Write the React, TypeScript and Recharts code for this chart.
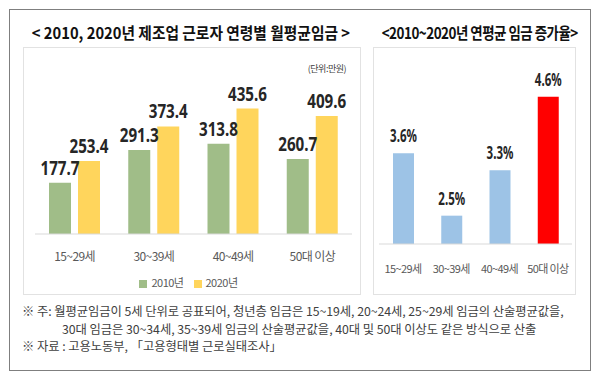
import { BarChart, Bar, XAxis, YAxis, Legend, LabelList, Cell } from "recharts";

const ageGroups = ["15~29세", "30~39세", "40~49세", "50대 이상"];
const wage2010 = [177.7, 291.3, 313.8, 260.7];
const wage2020 = [253.4, 373.4, 435.6, 409.6];
const growthRate = [3.6, 2.5, 3.3, 4.6];

const wageData = ageGroups.map((age, i) => ({ age, y2010: wage2010[i], y2020: wage2020[i] }));
const growthData = ageGroups.map((age, i) => ({ age, rate: growthRate[i] }));

const kr = "'Noto Sans CJK KR', sans-serif";
const tickStyle = { fontFamily: kr, fontSize: 12, fill: "#595959", letterSpacing: -0.6 };

// condensed bold value label above a bar
const squeezedLabel = (size: number, scale: number, gap: number, suffix = "") => (props: any) => {
    const { x, y, width, value } = props;
    const cx = Number(x) + Number(width) / 2;
    return (
        <text x={cx} y={Number(y) - gap} textAnchor="middle" fontFamily="'Noto Sans', sans-serif" fontWeight={700} fontSize={size} fill="#262626"
            transform={`translate(${cx} 0) scale(${scale} 1) translate(${-cx} 0)`}>
            {value}{suffix}
        </text>
    );
};

const App = () => (
    <div style={{ position: "absolute", left: 0, top: 0, width: 600, height: 380, background: "#fff" }}>
        <div style={{ position: "absolute", left: 9, top: 9, width: 582, height: 362, border: "1.5px solid #7f7f7f", boxSizing: "border-box" }} />

        <div style={{ position: "absolute", left: 0, top: 20, width: 382, textAlign: "center", fontFamily: kr, fontWeight: 700, fontSize: 16, color: "#111", whiteSpace: "nowrap" }}>
            <span style={{ display: "inline-block", transform: "scaleX(0.92)" }}>&lt; 2010, 2020년 제조업 근로자 연령별 월평균임금 &gt;</span>
        </div>
        <div style={{ position: "absolute", left: 363, top: 20, width: 229, textAlign: "center", fontFamily: kr, fontWeight: 700, fontSize: 16, color: "#111", whiteSpace: "nowrap" }}>
            <span style={{ display: "inline-block", transform: "scaleX(0.84)", letterSpacing: -0.6 }}>&lt;2010~2020년 연평균 임금 증가율&gt;</span>
        </div>

        <div style={{ position: "absolute", left: 23, top: 47, width: 338, height: 248, border: "1px solid #e2e2e2", boxSizing: "border-box" }}>
            <div style={{ position: "absolute", right: 14, top: 14, fontFamily: kr, fontSize: 9, color: "#404040", letterSpacing: -0.5 }}>(단위:만원)</div>
            <BarChart width={336} height={246} data={wageData} margin={{ top: 42, right: 8, left: 11, bottom: 4 }} barGap={7} barCategoryGap="18%">
                <XAxis dataKey="age" tickLine={false} axisLine={{ stroke: "#d9d9d9" }} tick={tickStyle} tickMargin={12} height={40} interval={0} />
                <YAxis hide domain={[0, 500]} />
                <Legend verticalAlign="bottom" iconType="square" iconSize={8} wrapperStyle={{ fontFamily: kr, fontSize: 11, letterSpacing: -0.5 }}
                    formatter={(v) => <span style={{ color: "#595959" }}>{v}</span>} />
                <Bar dataKey="y2010" name="2010년" fill="#a0bd88" barSize={22} isAnimationActive={false}>
                    <LabelList dataKey="y2010" content={squeezedLabel(19, 0.8, 8)} />
                </Bar>
                <Bar dataKey="y2020" name="2020년" fill="#ffd55c" barSize={22} isAnimationActive={false}>
                    <LabelList dataKey="y2020" content={squeezedLabel(19, 0.8, 8)} />
                </Bar>
            </BarChart>
        </div>

        <div style={{ position: "absolute", left: 373, top: 47, width: 203, height: 248, border: "1px solid #e2e2e2", boxSizing: "border-box" }}>
            <BarChart width={201} height={246} data={growthData} margin={{ top: 26, right: 3, left: 5, bottom: 10 }}>
                <XAxis dataKey="age" tickLine={false} axisLine={{ stroke: "#d9d9d9" }} tick={{ ...tickStyle, fontSize: 11 }} tickMargin={15} height={40} interval={0} />
                <YAxis hide domain={[2, 5]} />
                <Bar dataKey="rate" barSize={21} isAnimationActive={false}>
                    {growthData.map((d, i) => (
                        <Cell key={d.age} fill={i === growthData.length - 1 ? "#ff0000" : "#9dc3e6"} />
                    ))}
                    <LabelList dataKey="rate" content={squeezedLabel(17, 0.68, 11, "%")} />
                </Bar>
            </BarChart>
        </div>

        <div style={{ position: "absolute", left: 22, top: 303, fontFamily: kr, fontSize: 12.3, color: "#404040", lineHeight: "17.5px", letterSpacing: -0.05, whiteSpace: "nowrap" }}>
            <div>※ 주: 월평균임금이 5세 단위로 공표되어, 청년층 임금은 15~19세, 20~24세, 25~29세 임금의 산술평균값을,</div>
            <div style={{ paddingLeft: 40 }}>30대 임금은 30~34세, 35~39세 임금의 산술평균값을, 40대 및 50대 이상도 같은 방식으로 산출</div>
            <div>※ 자료 : 고용노동부, 「고용형태별 근로실태조사」</div>
        </div>
    </div>
);

export default App;
